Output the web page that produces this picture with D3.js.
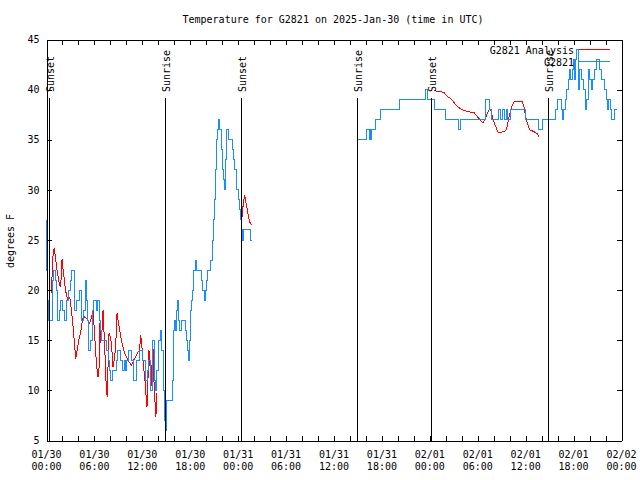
<!DOCTYPE html>
<html>
<head>
<meta charset="utf-8">
<script src="https://cdn.jsdelivr.net/npm/d3@7"></script>
<style>
  html, body { margin: 0; padding: 0; background: #fff; }
  svg { display: block; }
  text { font-family: "DejaVu Sans Mono", "Liberation Mono", monospace; font-size: 10px; fill: #000; }
</style>
</head>
<body>
<svg id="chart" width="640" height="480"></svg>
<script>
// ---------------- DATA (hours after 2025-01-30 00:00 UTC) ----------------
const titleText = "Temperature for G2821 on 2025-Jan-30 (time in UTC)";
const yLabel = "degrees F";
const seriesNames = ["G2821 Analysis", "G2821"];

// Observed station temperature (G2821), change points; null = data gap
const obsHours = [
  0.00, 0.06, 0.14, 0.23, 0.79, 0.91, 1.16, 1.29, 1.41, 1.60, 1.73, 2.04, 2.29, 2.48, 2.79, 2.98,
  3.16, 3.54, 3.73, 4.10, 4.41, 4.60, 4.85, 5.04, 5.16, 5.29, 5.54, 5.73, 5.85, 6.29, 6.41, 6.60,
  6.73, 6.91, 7.54, 7.79, 7.91, 8.04, 8.29, 8.73, 8.91, 9.29, 9.48, 9.73, 9.91, 10.04, 10.23, 10.66,
  10.91, 11.29, 11.60, 12.04, 12.35, 12.60, 12.79, 12.98, 13.29, 13.48, 13.60, 13.79, 14.04, 14.29,
  14.41, 14.60, 14.73, 14.85, 14.98, 15.73, 15.85, 15.95, 16.04, 16.16, 16.29, 16.41, 16.54, 16.66,
  16.85, 17.35, 17.54, 17.66, 17.83, 17.91, 18.00, 18.16, 18.25, 18.41, 18.66, 18.79, 19.35, 19.54,
  19.73, 19.91, 20.04, 20.20, 20.54, 20.73, 20.85, 20.98, 21.10, 21.23, 21.41, 21.54, 21.66, 21.91,
  22.04, 22.16, 22.29, 22.39, 22.48, 22.60, 22.79, 23.29, 23.41, 23.54, 23.73, 23.85, 23.98, 24.16,
  24.29, 24.41, 24.50, 24.66, 25.54, 25.73,
  30.00,
  38.83, 40.04, 40.41, 40.50, 40.58, 40.70, 41.25, 41.85, 44.23, 47.41, 47.73, 48.60, 49.98, 51.54,
  51.79, 54.91, 55.48, 55.66, 56.66, 56.85, 57.16, 57.35, 57.54, 57.70, 58.10, 60.04, 61.66, 62.08,
  63.75, 63.98, 64.54, 64.66, 64.79, 64.98, 65.16, 65.33, 65.48, 65.66, 65.85, 65.95, 66.10, 66.23,
  66.41, 66.60, 66.79, 67.04, 67.29, 67.48, 67.66, 67.83, 67.91, 68.04, 68.20, 68.35, 68.60, 68.88,
  69.29, 69.54, 69.91, 70.10, 70.29, 70.41, 70.60, 70.79, 71.10, 71.48
];
const obsTemps = [
  27, 22, 19, 17, 21, 22, 21, 20, 17, 18, 19, 18, 17, 19, 20, 21,
  22, 18, 19, 20, 17, 18, 21, 19, 17, 14, 15, 18, 19, 18, 19, 17,
  16, 15, 14, 13, 12, 11, 12, 13, 14, 13, 12, 13, 12, 13, 14, 13,
  11, 13, 14, 13, 11, 12, 13, 10, 15, 11, 10, 12, 15, 16,
  14, 10, 7, 6, 9, 11, 13, 16, 17, 16, 18, 19, 17, 16,
  17, 16, 15, 14, 13, 15, 18, 19, 20, 22, 23, 22, 21, 20,
  19, 20, 21, 22, 23, 25, 27, 29, 32, 35, 36, 37, 36, 34,
  32, 31, 30, 33, 35, 36, 35, 34, 33, 32, 31, 30, 29, 28,
  27, 26, 25, 26, 25, 25,
  null,
  35, 36, 35, 36, 35, 36, 37, 38, 39, 40, 39, 38, 37, 36,
  37, 39, 38, 37, 38, 37, 38, 37, 38, 37, 38, 37, 36, 37,
  38, 39, 38, 37, 38, 39, 40, 41, 42, 41, 42, 43, 41, 43,
  44, 40, 42, 41, 40, 38, 39, 41, 42, 41, 40, 41, 42, 43,
  42, 41, 40, 39, 38, 39, 38, 37, 38, 38
];

// Analysis temperature (G2821 Analysis); null = gap
const anaHours = [
  0.63, 0.75, 0.95, 1.13, 1.25, 1.38, 1.58, 1.75, 1.88, 1.95, 2.08, 2.20, 2.33, 2.50, 2.70, 2.91,
  3.13, 3.33, 3.50, 3.66, 3.83, 4.04, 4.25, 4.45, 4.66, 4.79, 5.00, 5.20, 5.41, 5.54, 5.83, 5.95,
  6.25, 6.45, 6.58, 6.66, 6.79, 6.95, 7.08, 7.29, 7.50, 7.63, 7.70, 7.83, 8.00, 8.13, 8.33, 8.54,
  8.75, 8.83, 8.95, 9.16, 9.38, 9.58, 9.79, 10.20, 10.63, 10.91, 11.25, 11.45, 11.66, 11.79, 11.91,
  12.08, 12.20, 12.33, 12.45, 12.58, 12.70, 12.83, 12.95, 13.08, 13.20, 13.33, 13.45, 13.58, 13.70, 13.79,
  19.00,
  24.50, 24.60, 24.70, 24.83, 24.91, 25.08, 25.20, 25.33, 25.50, 25.66,
  36.00,
  48.54, 49.29, 49.79, 50.20, 50.63, 51.04, 51.45, 52.08, 52.70, 53.54, 53.95, 54.38, 54.66, 55.04,
  55.41, 55.63, 55.91, 56.25, 56.58, 57.29, 57.60, 57.91, 58.25, 58.54, 59.58, 59.79, 60.00, 60.20,
  60.50, 61.04, 61.45, 61.66
];
const anaTemps = [
  19.7, 23.0, 24.2, 23.3, 22.3, 21.7, 20.7, 20.3, 21.7, 23.1, 22.0, 21.3, 20.3, 19.5, 19.0, 19.3,
  18.0, 16.3, 14.7, 13.1, 14.0, 15.0, 15.7, 16.7, 17.5, 17.3, 17.2, 17.0, 16.7, 17.0, 18.0, 16.5,
  12.7, 11.3, 12.3, 16.7, 14.7, 16.0, 18.0, 14.3, 10.0, 9.3, 12.3, 15.7, 15.3, 14.7, 12.3, 13.3,
  15.7, 17.7, 17.0, 16.0, 15.0, 14.3, 13.7, 13.0, 12.5, 13.0, 13.5, 13.8, 14.0, 15.5, 14.7,
  13.0, 12.0, 11.0, 9.7, 8.3, 11.0, 14.0, 12.7, 10.3, 12.3, 14.3, 11.0, 9.0, 7.3, 9.7,
  null,
  27.3, 28.3, 29.0, 29.5, 29.0, 28.3, 27.7, 27.2, 26.7, 26.5,
  null,
  39.9, 39.8, 39.7, 39.3, 39.1, 38.7, 38.3, 38.0, 37.8, 37.7, 37.3, 36.9, 36.7, 37.3,
  38.0, 38.0, 37.0, 36.3, 35.7, 35.8, 36.0, 37.3, 38.3, 38.8, 38.8, 38.3, 37.3, 36.7,
  36.0, 35.8, 35.6, 35.3
];

// Sun events
const sunEventNames = ["Sunset", "Sunrise", "Sunset", "Sunrise", "Sunset", "Sunrise"];
const sunEventHours = [0.33, 14.83, 24.33, 38.83, 48.20, 62.75];

// Axes
const yDomain = [5, 45];
const yTicks = [5, 10, 15, 20, 25, 30, 35, 40, 45];
const xTickHours = d3.range(0, 73, 2);            // tick marks every 2 hours
const xLabelHours = [0, 6, 12, 18, 24, 30, 36, 42, 48, 54, 60, 66, 72];
const xLabelDates = ["01/30","01/30","01/30","01/30","01/31","01/31","01/31","01/31","02/01","02/01","02/01","02/01","02/02"];
const xLabelTimes = ["00:00","06:00","12:00","18:00","00:00","06:00","12:00","18:00","00:00","06:00","12:00","18:00","00:00"];

// ---------------- DRAWING ----------------
const svg = d3.select("#chart");
const L = 46.5, R = 621.5, T = 39.5, B = 440.5;
const x = d3.scaleLinear().domain([0, 72]).range([L, R]);
const y = d3.scaleLinear().domain(yDomain).range([B, T]);
const RED = "#ff0000", BLUE = "#1a8cff";

svg.append("rect").attr("width", 640).attr("height", 480).attr("fill", "#fff");

// title
svg.append("text").attr("x", 333).attr("y", 23).attr("text-anchor", "middle").text(titleText);

// y axis label
svg.append("text").attr("transform", "translate(14,241) rotate(-90)")
  .attr("text-anchor", "middle").text(yLabel);

// data lines
const obs = obsHours.map((h, i) => ({h, v: obsTemps[i]}));
const ana = anaHours.map((h, i) => ({h, v: anaTemps[i]}));
const gData = svg.append("g").attr("shape-rendering", "crispEdges");
gData.append("path").datum(ana)
  .style("fill", "none").style("stroke", RED).style("stroke-width", 1)
  .attr("d", d3.line().defined(d => d.v != null).x(d => x(d.h)).y(d => y(d.v)));
gData.append("path").datum(obs)
  .style("fill", "none").style("stroke", BLUE).style("stroke-width", 1)
  .attr("d", d3.line().defined(d => d.v != null).curve(d3.curveStepAfter).x(d => x(d.h)).y(d => y(d.v)));

// sun event lines + labels
const sunTop = B - 0.855 * (B - T);
const gSun = svg.append("g");
sunEventHours.forEach((h, i) => {
  const xp = Math.round(x(h)) + 0.5;
  gSun.append("line").attr("x1", xp).attr("x2", xp).attr("y1", B).attr("y2", sunTop)
    .style("stroke", "#000").style("stroke-width", 1).attr("shape-rendering", "crispEdges");
  gSun.append("text").attr("transform", `translate(${xp + 4.5},92) rotate(-90)`)
    .attr("text-anchor", "start")
    .text(sunEventNames[i]);
});

// axes
const gAx = svg.append("g").attr("shape-rendering", "crispEdges");
const axB = gAx.append("g").attr("transform", `translate(0,${B})`)
  .call(d3.axisBottom(x).tickValues(xTickHours).tickSizeInner(-5).tickSizeOuter(0).tickFormat(""));
const axT = gAx.append("g").attr("transform", `translate(0,${T})`)
  .call(d3.axisTop(x).tickValues(xTickHours).tickSizeInner(-5).tickSizeOuter(0).tickFormat(""));
const axL = gAx.append("g").attr("transform", `translate(${L},0)`)
  .call(d3.axisLeft(y).tickValues(yTicks).tickSizeInner(-5).tickSizeOuter(0).tickPadding(7).tickFormat(d3.format("d")));
const axR = gAx.append("g").attr("transform", `translate(${R},0)`)
  .call(d3.axisRight(y).tickValues(yTicks).tickSizeInner(-5).tickSizeOuter(0).tickFormat(""));
[axB, axT, axL, axR].forEach(a => {
  a.selectAll(".domain").style("stroke", "#000");
  a.selectAll(".tick line").style("stroke", "#000");
  a.selectAll("text").attr("font-family", null).attr("font-size", null).style("fill", "#000");
});

// x labels (two lines)
const gXL = svg.append("g");
xLabelHours.forEach((h, i) => {
  const t = gXL.append("text").attr("text-anchor", "middle");
  t.append("tspan").attr("x", x(h)).attr("y", 457.5).text(xLabelDates[i]);
  t.append("tspan").attr("x", x(h)).attr("y", 469.5).text(xLabelTimes[i]);
});

// legend
const legendRows = [
  {color: RED, lineY: 49, textY: 54},
  {color: BLUE, lineY: 61, textY: 66}
];
const gLeg = svg.append("g");
legendRows.forEach((r, i) => {
  gLeg.append("text").attr("x", 574).attr("y", r.textY).attr("text-anchor", "end").text(seriesNames[i]);
  gLeg.append("rect").attr("x", 579).attr("y", r.lineY).attr("width", 31).attr("height", 1)
    .style("fill", r.color).style("stroke", "none");
});
</script>
</body>
</html>
